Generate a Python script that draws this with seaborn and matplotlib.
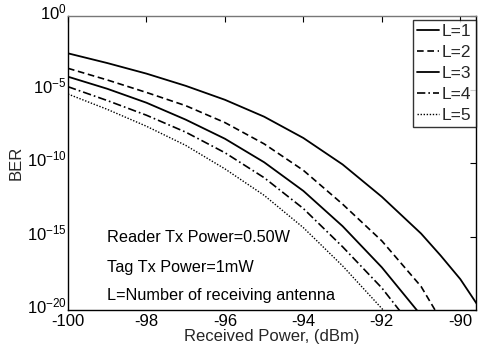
import matplotlib
matplotlib.use("Agg")
import matplotlib.pyplot as plt
import matplotlib.ticker as mticker
import matplotlib.transforms as mtransforms
import numpy as np
import pandas as pd
import seaborn as sns

# Received power (dBm) and log10(BER)
x_L1 = [-100, -99, -98, -97, -96, -95, -94, -93, -92, -91, -90.5, -90, -89.5]
e_L1 = [-2.54, -3.2, -3.92, -4.75, -5.7, -6.85, -8.3, -10.1, -12.3, -14.8, -16.3, -17.9, -19.9]

x_L2 = [-100, -99, -98, -97, -96, -95, -94, -93, -92, -91, -90.6]
e_L2 = [-3.56, -4.35, -5.2, -6.1, -7.25, -8.7, -10.5, -12.8, -15.3, -18.4, -20.2]

x_L3 = [-100, -99, -98, -97, -96, -95, -94, -93, -92, -91.05]
e_L3 = [-4.13, -4.95, -5.9, -7.05, -8.35, -9.95, -11.9, -14.3, -17.1, -20.2]

x_L4 = [-100, -99, -98, -97, -96, -95, -94, -93, -92, -91.5]
e_L4 = [-4.81, -5.75, -6.75, -7.9, -9.3, -11.0, -13.1, -15.7, -18.5, -20.2]

x_L5 = [-100, -99, -98, -97, -96, -95, -94, -93, -92, -91.9]
e_L5 = [-5.31, -6.35, -7.5, -8.8, -10.4, -12.2, -14.4, -17.0, -19.9, -20.2]

labels = ["L=1", "L=2", "L=3", "L=4", "L=5"]
xs = [x_L1, x_L2, x_L3, x_L4, x_L5]
es = [e_L1, e_L2, e_L3, e_L4, e_L5]

x_ticks = [-100, -98, -96, -94, -92, -90]
y_ticks = [1e0, 1e-5, 1e-10, 1e-15, 1e-20]

annotations = ["Reader Tx Power=0.50W", "Tag Tx Power=1mW", "L=Number of receiving antenna"]

sns.set_style("white")
plt.rcParams['font.family'] = ['Liberation Sans', 'DejaVu Sans']
plt.rcParams['mathtext.fontset'] = 'custom'
plt.rcParams['mathtext.rm'] = 'Liberation Sans'

fig = plt.figure(figsize=(4.78, 3.54), dpi=100)
ax = fig.add_axes([68/478, 1-310/354, (476-68)/478, (310-16)/354])

styles = ["-", (0, (4, 2.2)), "-", (0, (5, 1.8, 1, 1.8)), (0, (1, 1.2))]
widths = [1.3, 1.2, 1.3, 1.2, 1.0]

for lab, x, e, ls, lw in zip(labels, xs, es, styles, widths):
    df = pd.DataFrame({"x": x, "ber": np.power(10.0, e)})
    sns.lineplot(data=df, x="x", y="ber", ax=ax, color="black",
                 linestyle=ls, linewidth=lw, label=lab)

ax.set_yscale("log")
ax.set_xlim(-100, -89.6)
ax.set_ylim(1e-20, 1e0)
ax.set_xticks(x_ticks)
ax.set_xticklabels([str(t) for t in x_ticks])
ax.set_yticks(y_ticks)
ax.yaxis.set_minor_locator(mticker.NullLocator())
ax.tick_params(axis="both", direction="in", length=4, width=0.8,
               labelsize=12, top=True, right=True, colors="black")
ax.tick_params(axis="y", pad=1)
ax.tick_params(axis="x", pad=3)
# lift y tick labels a little so the "10" sits on the tick like the reference
off = mtransforms.ScaledTranslation(0, 5/100, fig.dpi_scale_trans)
for lbl in ax.get_yticklabels():
    lbl.set_transform(lbl.get_transform() + off)
for s in ax.spines.values():
    s.set_color("black")
    s.set_linewidth(1.0)
ax.spines["top"].set_color("#777777")

ax.set_xlabel("Received Power, (dBm)", fontsize=12, labelpad=0)
ax.set_ylabel("BER", fontsize=12, labelpad=2)

ty = [0.248, 0.146, 0.048]
for t, yy in zip(annotations, ty):
    ax.text(0.095, yy, t, transform=ax.transAxes, fontsize=11.7,
            va="center", ha="left", color="black")

leg = ax.legend(loc="upper right", bbox_to_anchor=(1.0, 1 - 4/294),
                fontsize=12.5, frameon=True, fancybox=False,
                edgecolor="black", handlelength=1.3, handletextpad=0.15,
                borderpad=0.25, labelspacing=0.33, borderaxespad=0.0)
leg.get_frame().set_linewidth(1.0)

fig.savefig("out.png", dpi=100)
